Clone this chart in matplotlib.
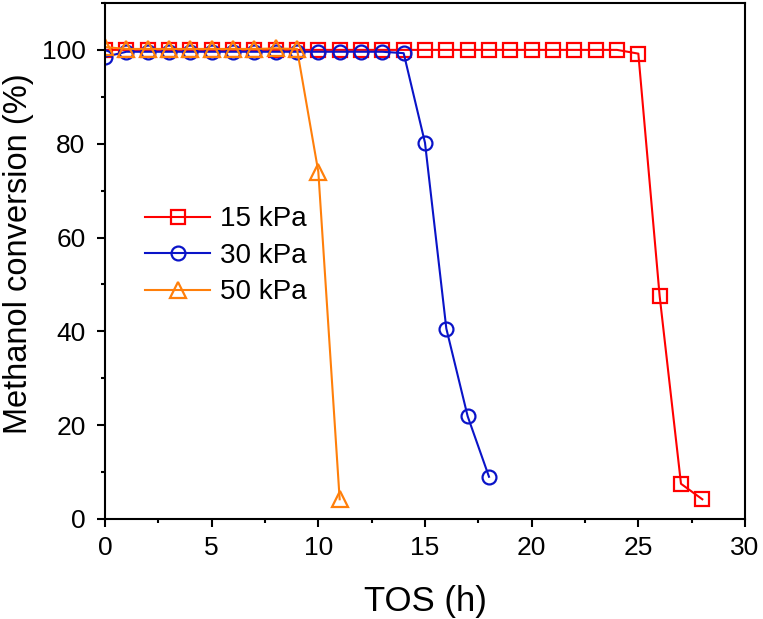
import numpy as np
import matplotlib
matplotlib.use("Agg")
import matplotlib.pyplot as plt
from matplotlib.ticker import MultipleLocator

plt.rcParams['font.family'] = ['Liberation Sans', 'DejaVu Sans']

# data
tos_15 = list(range(0, 29))
conv_15 = [100.0] * 25 + [99.2, 47.5, 7.5, 4.2]

tos_30 = list(range(0, 19))
conv_30 = [98.5] + [99.6] * 13 + [99.3, 80.2, 40.6, 21.9, 9.0]

tos_50 = list(range(0, 12))
conv_50 = [100.6, 100.2, 100.2, 100.2, 100.2, 100.2, 100.2, 100.2, 100.3, 100.2, 74.0, 4.2]

labels = ["15 kPa", "30 kPa", "50 kPa"]

fig = plt.figure(figsize=(7.63, 6.19), dpi=100)
ax = fig.add_axes([0.1376, 0.1616, 0.8388, 0.8336])

ax.plot(tos_15, conv_15, color='#FF0000', lw=1.5, marker='s', ms=9.5,
        mfc='none', mew=1.6, label=labels[0])
ax.plot(tos_30, conv_30, color='#0A14C8', lw=1.5, marker='o', ms=10,
        mfc='none', mew=1.6, label=labels[1])
ax.plot(tos_50, conv_50, color='#FF7F0A', lw=1.5, marker='^', ms=11,
        mfc='none', mew=1.6, label=labels[2])

ax.set_xlim(0, 30)
ax.set_ylim(0, 110)
ax.xaxis.set_major_locator(MultipleLocator(5))
ax.xaxis.set_minor_locator(MultipleLocator(2.5))
ax.yaxis.set_major_locator(MultipleLocator(20))
ax.yaxis.set_minor_locator(MultipleLocator(10))
ax.tick_params(which='both', direction='out', width=1.5, labelsize=19, top=False, right=False)
ax.tick_params(which='major', length=6)
ax.tick_params(which='minor', length=3)
ax.tick_params(axis='x', which='major', pad=6)
ax.tick_params(axis='y', which='major', pad=8)
for s in ax.spines.values():
    s.set_linewidth(1.5)

ax.set_xlabel('TOS (h)', fontsize=25, labelpad=18)
ax.set_ylabel('Methanol conversion (%)', fontsize=23.5)
ax.yaxis.set_label_coords(-0.111, 0.514)

ax.legend(loc='center left', bbox_to_anchor=(0.032, 0.51), frameon=False,
          fontsize=20, handlelength=2.35, handletextpad=0.35, labelspacing=0.38,
          borderpad=0.2)

fig.savefig('out.png', dpi=100)
